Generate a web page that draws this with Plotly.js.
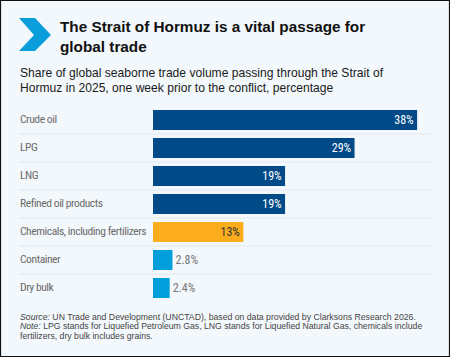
<!DOCTYPE html>
<html><head><meta charset="utf-8">
<script src="https://cdn.plot.ly/plotly-3.0.1.min.js"></script>
<style>html,body{margin:0;padding:0;background:#f3f8fc;}#chart{width:450px;height:357px;}</style>
</head><body><div id="chart"></div>
<script>
const categories = ["Crude oil","LPG","LNG","Refined oil products","Chemicals, including fertilizers","Container","Dry bulk"];
const values = [38, 29, 19, 19, 13, 2.8, 2.4];
const barColors = ["#024a87","#024a87","#024a87","#024a87","#fbad1b","#009edb","#009edb"];
const valueLabelColors = ["#ffffff","#ffffff","#ffffff","#ffffff","#333333","#777777","#777777"];
const titleText = "The Strait of Hormuz is a vital passage for<br>global trade";
const subtitleLines = [
  "Share of global seaborne trade volume passing through the Strait of",
  "Hormuz in 2025, one week prior to the conflict, percentage"
];
const footerLines = [
  "<i>Source:</i> UN Trade and Development (UNCTAD), based on data provided by Clarksons Research 2026.",
  "<i>Note:</i> LPG stands for Liquefied Petroleum Gas, LNG stands for Liquefied Natural Gas, chemicals include",
  "fertilizers, dry bulk includes grains."
];

const W = 450, H = 357;
const px = x => x / W;
const py = y => 1 - y / H;
const narrow = "'Liberation Sans Narrow', 'Roboto Condensed', 'DejaVu Sans Condensed', 'Arial Narrow', sans-serif";
const sans = "'Liberation Sans', Arial, Helvetica, sans-serif";
const tight = t => '<span style="letter-spacing:-0.45px">' + t + '</span>';

const trace = {
  type: "bar",
  orientation: "h",
  y: categories,
  x: values,
  marker: {color: barColors},
  texttemplate: "%{x}%",
  textposition: "auto",
  insidetextanchor: "end",
  textfont: {family: narrow, size: 12, color: valueLabelColors},
  cliponaxis: false,
  hoverinfo: "skip"
};

const shapes = [];
for (let i = 0; i < categories.length - 1; i++) {
  shapes.push({type: "line", xref: "paper", yref: "y", x0: px(19), x1: px(432),
    y0: i + 0.5, y1: i + 0.5, line: {color: "#e3e8ec", width: 1}, layer: "below"});
}
const cx = [19, 35, 51, 35, 19, 34];
const cy = [18, 18, 35, 51, 51, 35];
let path = "";
for (let i = 0; i < cx.length; i++) path += (i ? " L " : "M ") + px(cx[i]) + "," + py(cy[i]);
path += " Z";
shapes.push({type: "path", xref: "paper", yref: "paper", path: path, fillcolor: "#0a9ddb", line: {width: 0}});
shapes.push({type: "rect", xref: "paper", yref: "paper", x0: px(0.5), x1: px(449.5), y0: py(356.5), y1: py(0.5),
  line: {color: "#111", width: 1.2}});

const annotations = [];
categories.forEach((c) => {
  annotations.push({xref: "paper", yref: "y", x: px(18), y: c, xanchor: "left", yanchor: "middle",
    yshift: 1.5, text: tight(c), showarrow: false, font: {family: narrow, size: 11.6, color: "#6b6b6b"}});
});
annotations.push({xref: "paper", yref: "paper", x: px(58), y: py(16), xanchor: "left", yanchor: "top", align: "left",
  text: "<b>" + titleText + "</b>", showarrow: false, font: {family: sans, size: 15.3, color: "#111"}});
subtitleLines.forEach((t, i) => {
  annotations.push({xref: "paper", yref: "paper", x: px(18), y: py(73 + i * 14.5), xanchor: "left", yanchor: "middle", align: "left",
    text: t, showarrow: false, font: {family: sans, size: 12.1, color: "#1a1a1a"}});
});
footerLines.forEach((t, i) => {
  annotations.push({xref: "paper", yref: "paper", x: px(18), y: py(316.5 + i * 9.5), xanchor: "left", yanchor: "middle", align: "left",
    text: t, showarrow: false, font: {family: sans, size: 8.7, color: "#444"}});
});

const layout = {
  width: W, height: H,
  margin: {l: 0, r: 0, t: 0, b: 0},
  paper_bgcolor: "#f3f8fc",
  plot_bgcolor: "rgba(0,0,0,0)",
  showlegend: false,
  bargap: 8 / 28,
  xaxis: {domain: [px(153), px(431)], range: [0, 40], visible: false, fixedrange: true},
  yaxis: {domain: [py(302), py(106)], autorange: "reversed", showticklabels: false, showgrid: false,
    zeroline: false, ticks: "", showline: false, fixedrange: true},
  shapes: shapes,
  annotations: annotations
};

Plotly.newPlot("chart", [trace], layout, {displayModeBar: false, staticPlot: true});
</script></body></html>
